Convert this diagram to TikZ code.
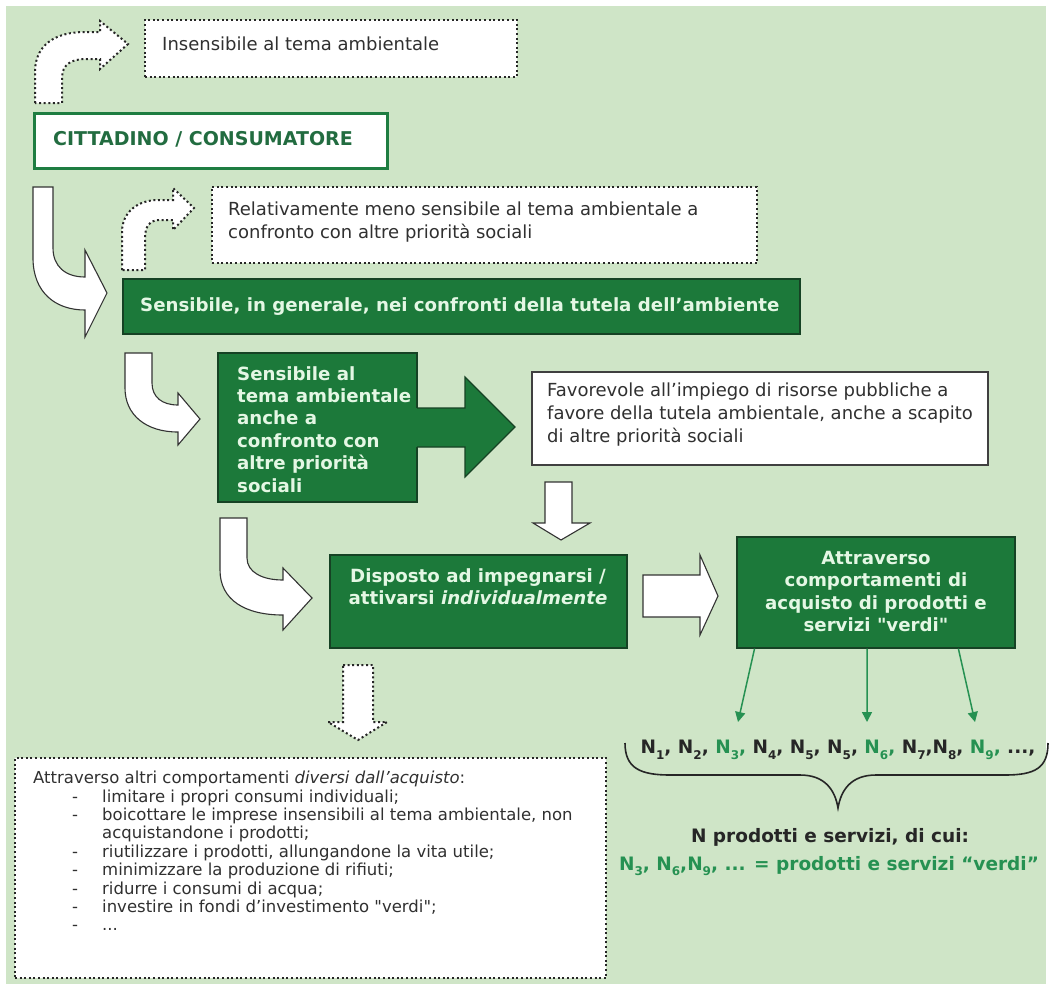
\documentclass[tikz,border=0pt]{standalone}
\usepackage{fontspec}
\setmainfont{DejaVu Sans}[Ligatures=TeXOff]
\usetikzlibrary{arrows.meta,fit,calc}

\definecolor{bggreen}{RGB}{207,229,199}
\definecolor{boxgreen}{RGB}{28,121,58}
\definecolor{boxedge}{RGB}{22,66,36}
\definecolor{minttext}{RGB}{228,247,228}
\definecolor{ngreen}{RGB}{38,145,82}
\definecolor{darktext}{RGB}{48,48,48}
\definecolor{cittgreen}{RGB}{30,125,65}
\definecolor{citttext}{RGB}{34,108,64}

% subscripted N for the product list
\newcommand\Nsub[1]{N\raisebox{-0.3em}{\fontsize{12}{12}\selectfont #1}}
% one dash item of the bottom list
\newcommand\dashitem{\hspace*{39pt}\makebox[30pt][l]{-}}

\begin{document}
\begin{tikzpicture}[x=1pt,y=-1pt,
  hollow/.style={fill=white,draw=black!80,line width=1.1pt,line join=miter},
  dotline/.style={draw=black!85,line width=2pt,dash pattern=on 2pt off 2.6pt},
  dotarrow/.style={dotline,fill=white},
  dotbox/.style={dotline,fill=white,inner sep=0pt},
  gbox/.style={fill=boxgreen,draw=boxedge,line width=1.2pt,inner sep=0pt},
  wbox/.style={fill=white,draw=black!75,line width=1.2pt,inner sep=0pt},
  citbox/.style={fill=white,draw=cittgreen,line width=3pt,inner sep=0pt},
  ntxt/.style={font=\fontsize{18}{23}\selectfont,text=darktext,inner sep=0pt,align=left},
  gtxt/.style={font=\bfseries\fontsize{18.2}{22.4}\selectfont,text=minttext,inner sep=0pt},
  ltxt/.style={font=\fontsize{16.5}{18.4}\selectfont,text=darktext,inner sep=0pt,align=left},
  garrow/.style={draw=ngreen,line width=1.5pt,-{Triangle[length=10pt,width=10pt]}},
]
\useasboundingbox (0,0) rectangle (1052,989);
\fill[white] (0,0) rectangle (1052,989);
\fill[bggreen] (6,6) rectangle (1046,984);

% ---- top: insensitive citizen
\filldraw[dotarrow] (35,103) -- (35,72) .. controls (35,45) and (55,32) .. (85,32) -- (100,32)
  -- (100,21) -- (128,44) -- (100,69) -- (100,59) -- (86,59)
  .. controls (72,59) and (62,64) .. (62,78) -- (62,103) -- cycle;
\node[dotbox,fit={(145,20) (517,77)}] (insens) {};
\node[ntxt,anchor=west] (insensT) at (162,44) {Insensibile al tema ambientale};

\node[citbox,fit={(34,113) (387,168)}] (citt) {};
\node[font=\bfseries\fontsize{19}{22}\selectfont,text=citttext,inner sep=0pt,anchor=west]
  (cittT) at (53,139) {CITTADINO / CONSUMATORE};

% ---- generally sensitive
\filldraw[hollow] (33,187) -- (53,187) -- (53,248) .. controls (53,266) and (65,277) .. (85,277)
  -- (85,250) -- (107,293) -- (85,337) -- (85,310)
  .. controls (55,310) and (33,292) .. (33,258) -- cycle;
\filldraw[dotarrow] (122,270) -- (122,232) .. controls (122,212) and (138,200) .. (158,200)
  -- (173,200) -- (173,188) -- (194,208) -- (173,230) -- (173,220) -- (160,220)
  .. controls (150,220) and (145,226) .. (145,238) -- (145,270) -- cycle;
\node[dotbox,fit={(212,187) (757,263)}] (meno) {};
\node[ntxt,anchor=north west] (menoT) at (228,202)
  {Relativamente meno sensibile al tema ambientale a\\confronto con altre priorità sociali};

\node[gbox,fit={(123,279) (800,334)}] (gen) {};
\node[gtxt,anchor=west] (genT) at (140,307)
  {Sensibile, in generale, nei confronti della tutela dell’ambiente};

% ---- sensitive even against other priorities
\filldraw[hollow] (125,353) -- (152,353) -- (152,383) .. controls (152,397) and (162,405) .. (178,405)
  -- (178,393) -- (200,419) -- (178,445) -- (178,432)
  .. controls (146,432) and (125,415) .. (125,388) -- cycle;
\node[gbox,fit={(218,353) (417,502)}] (prio) {};
\fill[boxgreen] (414,408) -- (465,408) -- (465,377) -- (515,427) -- (465,477) -- (465,447) -- (414,447) -- cycle;
\draw[boxedge,line width=1.2pt,line join=miter] (417,408) -- (465,408) -- (465,377) -- (515,427)
  -- (465,477) -- (465,447) -- (417,447);
\node[gtxt,align=left,anchor=north west] (prioT) at (237,366)
  {Sensibile al\\tema ambientale\\anche a\\confronto con\\altre priorità\\sociali};

\node[wbox,fit={(532,372) (988,465)}] (pubb) {};
\node[ntxt,anchor=north west] (pubbT) at (547,383)
  {Favorevole all’impiego di risorse pubbliche a\\favore della tutela ambientale, anche a scapito\\di altre priorità sociali};
\filldraw[hollow] (545,482) -- (572,482) -- (572,523) -- (590,523) -- (561,540) -- (533,523) -- (545,523) -- cycle;

% ---- individual commitment
\filldraw[hollow] (220,518) -- (247,518) -- (247,558) .. controls (247,572) and (262,580) .. (283,580)
  -- (283,568) -- (312,598) -- (283,630) -- (283,615)
  .. controls (245,615) and (220,600) .. (220,570) -- cycle;
\node[gbox,fit={(330,555) (627,648)}] (ind) {};
\node[gtxt,align=center,anchor=north] (indT) at (478,568)
  {Disposto ad impegnarsi /\\attivarsi \textit{individualmente}};

\filldraw[hollow] (643,575) -- (700,575) -- (700,555) -- (718,596) -- (700,635) -- (700,617) -- (643,617) -- cycle;
\node[gbox,fit={(737,537) (1015,648)}] (acq) {};
\node[gtxt,align=center,anchor=north] (acqT) at (876,551)
  {Attraverso\\comportamenti di\\acquisto di prodotti e\\servizi "verdi"};

% ---- products
\coordinate (t3) at (738,722);
\coordinate (t6) at (867,722);
\coordinate (t9) at (975,722);
\draw[garrow] ($(acq.south west)!0.065!(acq.south east)$) -- (t3);
\draw[garrow] ($(acq.south west)!0.468!(acq.south east)$) -- (t6);
\draw[garrow] ($(acq.south west)!0.795!(acq.south east)$) -- (t9);

\node[font=\bfseries\fontsize{18.5}{22}\selectfont,text=black!85,inner sep=0pt] (nlist) at (838,750)
  {\Nsub{1}, \Nsub{2}, \textcolor{ngreen}{\Nsub{3},} \Nsub{4}, \Nsub{5}, \Nsub{5},
   \textcolor{ngreen}{\Nsub{6},} \Nsub{7},\Nsub{8}, \textcolor{ngreen}{\Nsub{9},} ...,};
\draw[black!85,line width=1.6pt] (625,743) .. controls (625,768) and (640,775) .. (670,775) -- (800,775)
  .. controls (825,775) and (835,790) .. (838,808)
  .. controls (841,790) and (851,775) .. (876,775) -- (1005,775)
  .. controls (1035,775) and (1048,768) .. (1048,743);
\node[font=\bfseries\fontsize{18.5}{22}\selectfont,text=black!85,inner sep=0pt] (ntot) at (830,837)
  {N prodotti e servizi, di cui:};
\node[font=\bfseries\fontsize{18.5}{22}\selectfont,text=ngreen,inner sep=0pt] (nverdi) at (829,866)
  {\Nsub{3}, \Nsub{6},\Nsub{9}, ... = prodotti e servizi “verdi”};

% ---- other behaviours
\filldraw[dotarrow] (343,665) -- (373,665) -- (373,722) -- (387,722) -- (358,740) -- (328,722) -- (343,722) -- cycle;
\node[dotbox,fit={(15,758) (606,978)}] (altri) {};
\node[ltxt,anchor=north west] (altriT) at (33,771)
  {Attraverso altri comportamenti \textit{diversi dall’acquisto}:\\
   \dashitem limitare i propri consumi individuali;\\
   \dashitem boicottare le imprese insensibili al tema ambientale, non\\
   \hspace*{69pt}acquistandone i prodotti;\\
   \dashitem riutilizzare i prodotti, allungandone la vita utile;\\
   \dashitem minimizzare la produzione di rifiuti;\\
   \dashitem ridurre i consumi di acqua;\\
   \dashitem investire in fondi d’investimento "verdi";\\
   \dashitem ...};
\end{tikzpicture}
\end{document}
